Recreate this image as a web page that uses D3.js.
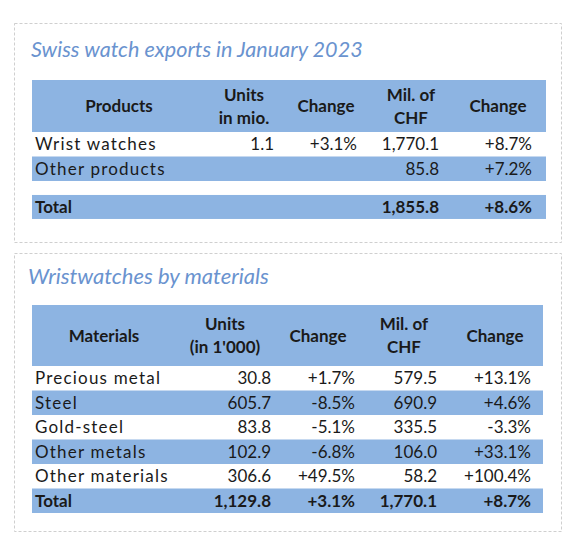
<!DOCTYPE html>
<html><head><meta charset="utf-8">
<script src="https://cdn.jsdelivr.net/npm/d3@7"></script>
<style>
html,body{margin:0;padding:0;background:#fff;}
svg{display:block;}
</style></head>
<body><svg id="c" width="577" height="551"></svg>
<script>
// ---- Data: table 1 ----
const title1 = "Swiss watch exports in January 2023";
const header1 = [["Products"], ["Units", "in mio."], ["Change"], ["Mil. of", "CHF"], ["Change"]];
const products = ["Wrist watches", "Other products"];
const productUnits = [1.1, null];
const productUnitsChange = [3.1, null];
const productCHF = [1770.1, 85.8];
const productCHFChange = [8.7, 7.2];
const total1 = ["Total", null, null, 1855.8, 8.6];

// ---- Data: table 2 ----
const title2 = "Wristwatches by materials";
const header2 = [["Materials"], ["Units", "(in 1'000)"], ["Change"], ["Mil. of", "CHF"], ["Change"]];
const materials = ["Precious metal", "Steel", "Gold-steel", "Other metals", "Other materials"];
const materialUnits = [30.8, 605.7, 83.8, 102.9, 306.6];
const materialUnitsChange = [1.7, -8.5, -5.1, -6.8, 49.5];
const materialCHF = [579.5, 690.9, 335.5, 106.0, 58.2];
const materialCHFChange = [13.1, 4.6, -3.3, 33.1, 100.4];
const total2 = ["Total", 1129.8, 3.1, 1770.1, 8.7];

const loc = d3.formatLocale({decimal: ".", thousands: ",", grouping: [3], currency: ["", ""], minus: "-"});
const fNum = loc.format(",.1f");
const fPct = v => loc.format("+.1f")(v) + "%";
const fmt = [d => d, v => v == null ? "" : fNum(v), v => v == null ? "" : fPct(v), v => v == null ? "" : fNum(v), v => v == null ? "" : fPct(v)];

const svg = d3.select("#c");
const BAND = "#8db4e2", TXT = "#1a1a1a", TITLE = "#6a93cf";
const FONT = "Lato, 'Open Sans', sans-serif";

function drawTable(cfg) {
  const g = svg.append("g");
  g.append("rect").attr("x", cfg.box[0] + 0.5).attr("y", cfg.box[1] + 0.5)
    .attr("width", cfg.box[2] - cfg.box[0]).attr("height", cfg.box[3] - cfg.box[1])
    .attr("fill", "none").attr("stroke", "#cfcfcf").attr("stroke-width", 1).attr("stroke-dasharray", "3,2");
  g.append("text").attr("x", cfg.titleX).attr("y", cfg.titleY)
    .attr("font-family", FONT).attr("font-style", "italic").attr("font-size", cfg.titleSize)
    .attr("fill", TITLE).text(cfg.title);

  const x = d3.scaleOrdinal().domain(d3.range(5)).range(cfg.colRight);
  const xh = d3.scaleOrdinal().domain(d3.range(5)).range(cfg.colHead);
  const y = d3.scaleLinear().domain([0, 1]).range([cfg.bodyTop, cfg.bodyTop + cfg.rowH]);

  g.append("rect").attr("x", cfg.left).attr("y", cfg.headTop)
    .attr("width", cfg.right - cfg.left).attr("height", cfg.bodyTop - cfg.headTop).attr("fill", BAND);
  const hmid = (cfg.headTop + cfg.bodyTop) / 2;
  cfg.header.forEach((lines, i) => {
    lines.forEach((ln, j) => {
      const dy = lines.length === 1 ? 0 : (j === 0 ? -11.5 : 11.5);
      g.append("text").attr("x", xh(i)).attr("y", hmid + dy).attr("dy", "0.36em")
        .attr("text-anchor", "middle").attr("font-family", FONT).attr("font-weight", 700)
        .attr("font-size", 17).attr("fill", TXT).text(ln);
    });
  });

  cfg.rows.forEach(r => {
    const y0 = y(r.pos), h = r.h || cfg.rowH;
    if (r.band) g.append("rect").attr("x", cfg.left).attr("y", y0).attr("width", cfg.right - cfg.left)
      .attr("height", h).attr("fill", BAND);
    r.cells.forEach((v, i) => {
      const t = g.append("text").attr("y", y0 + h / 2).attr("dy", "0.36em")
        .attr("font-family", FONT).attr("font-size", 17).attr("fill", TXT)
        .attr("font-weight", r.bold ? 700 : 400).text(fmt[i](v));
      if (i === 0) t.attr("x", cfg.labelX).attr("letter-spacing", r.bold ? 0 : 1.2);
      else t.attr("x", x(i)).attr("text-anchor", "end");
    });
  });
}

const rows1 = products.map((p, i) => ({pos: i, band: i % 2 === 1,
  cells: [p, productUnits[i], productUnitsChange[i], productCHF[i], productCHFChange[i]]}));
rows1.push({pos: 2.57, band: true, bold: true, h: 24, cells: total1});

drawTable({box: [14, 23, 561, 242], title: title1, titleX: 31, titleY: 57, titleSize: 21.6,
  header: header1, left: 32, right: 546, headTop: 80, bodyTop: 132, rowH: 24.5,
  colHead: [119, 244, 326, 411, 498], colRight: [0, 274, 357, 439, 532], labelX: 35, rows: rows1});

const rows2 = materials.map((m, i) => ({pos: i, band: i % 2 === 1,
  cells: [m, materialUnits[i], materialUnitsChange[i], materialCHF[i], materialCHFChange[i]]}));
rows2.push({pos: 5, band: true, bold: true, cells: total2});

drawTable({box: [14, 253, 561, 531], title: title2, titleX: 28, titleY: 284, titleSize: 22,
  header: header2, left: 32, right: 543, headTop: 305, bodyTop: 366, rowH: 24.5,
  colHead: [104, 225, 318, 404, 495], colRight: [0, 271, 355, 437, 531], labelX: 35, rows: rows2});
</script></body></html>
